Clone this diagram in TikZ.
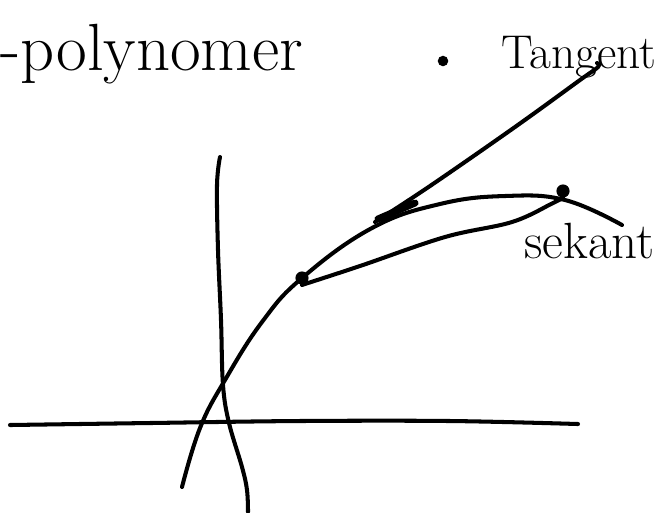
\documentclass[tikz,border=0pt]{standalone}
\usepackage{tikz}
\usetikzlibrary{positioning}

\begin{document}
\begin{tikzpicture}[
    x=0.02cm, y=-0.02cm,
    pen/.style={line width=2.3pt, line cap=round, line join=round},
    handtext/.style={inner sep=0pt, anchor=base west},
    pt/.style={circle, fill=black, inner sep=0pt, minimum size=7.5pt}
]
\useasboundingbox (0,0) rectangle (658,512);

% akser
\draw[pen] plot[smooth, tension=0.6] coordinates {(10,425) (150,423) (300,421) (450,421) (578,424)};
\draw[pen] plot[smooth, tension=0.6] coordinates {(220,157) (217,185) (218,250) (221,320) (223,385) (229,423) (242,467) (247,490) (248,512)};

% punkter paa grafen
\node[pt] (P) at (302,278) {};
\node[pt] (Q) at (563,191) {};

% grafen
\draw[pen] plot[smooth, tension=0.7] coordinates {(182,487) (200,428) (225,380) (262,322) (302,278) (372,228) (440,204) (505,196) (565,200) (622,225)};

% sekant
\draw[pen] plot[smooth, tension=0.6] coordinates {(P.south) (360,266) (445,237) (512,222) (553,203) (Q.south)};

% tangent
\draw[pen] plot[smooth, tension=0.6] coordinates {(375,222) (430,186) (515,127) (580,80) (598,67) (597,63)};
\draw[line width=4pt, line cap=round] (378,219) -- (415,203);

% tekster
\node[handtext, font=\fontsize{38}{42}\selectfont] (poly) at (0,70) {-polynomer};
\fill (443,61) circle (3pt);
\node[handtext, font=\fontsize{27}{30}\selectfont] (tan) at (501,68) {Tangent};
\node[handtext, font=\fontsize{29}{32}\selectfont] (sek) at (524,258) {sekant};
\end{tikzpicture}
\end{document}
